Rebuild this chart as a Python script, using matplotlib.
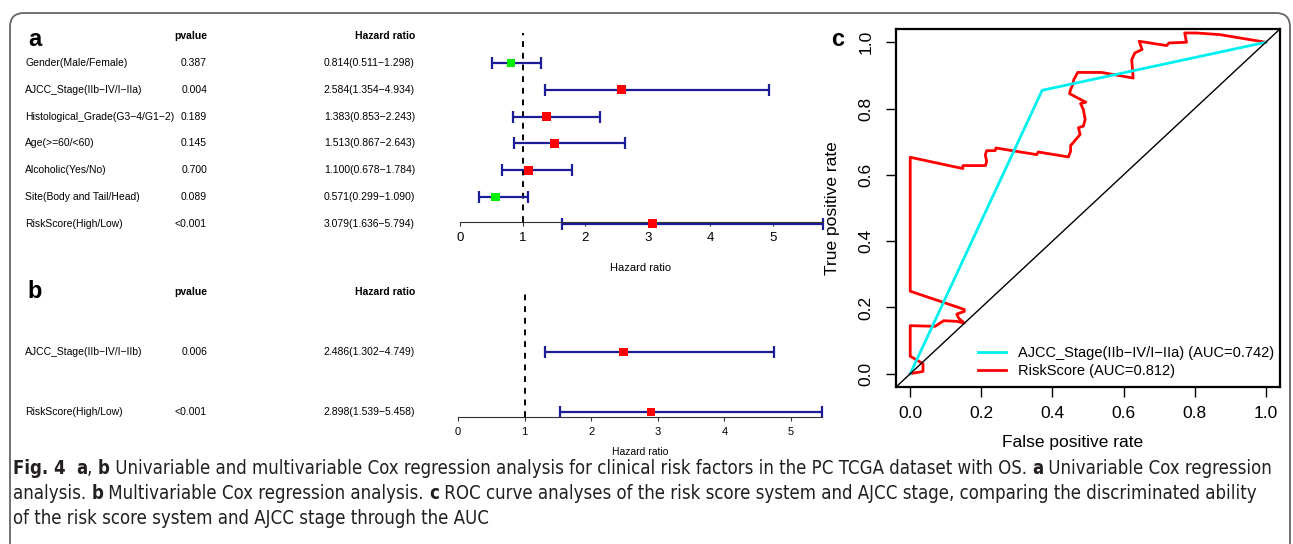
import matplotlib
matplotlib.use("Agg")
import matplotlib.pyplot as plt
from matplotlib import transforms
from matplotlib.patches import FancyBboxPatch
from matplotlib.font_manager import FontProperties

# ---- data -------------------------------------------------------------
uni_names = ["Gender(Male/Female)", "AJCC_Stage(IIb\u2212IV/I\u2212IIa)",
             "Histological_Grade(G3\u22124/G1\u22122)", "Age(>=60/<60)",
             "Alcoholic(Yes/No)", "Site(Body and Tail/Head)", "RiskScore(High/Low)"]
uni_pvalue = ["0.387", "0.004", "0.189", "0.145", "0.700", "0.089", "<0.001"]
uni_hr = [0.814, 2.584, 1.383, 1.513, 1.100, 0.571, 3.079]
uni_low = [0.511, 1.354, 0.853, 0.867, 0.678, 0.299, 1.636]
uni_high = [1.298, 4.934, 2.243, 2.643, 1.784, 1.090, 5.794]

multi_names = ["AJCC_Stage(IIb\u2212IV/I\u2212IIb)", "RiskScore(High/Low)"]
multi_pvalue = ["0.006", "<0.001"]
multi_hr = [2.486, 2.898]
multi_low = [1.302, 1.539]
multi_high = [4.749, 5.458]

hr_ticks = [0, 1, 2, 3, 4, 5]

ajcc_fpr = [0.0, 0.371, 1.0]
ajcc_tpr = [0.0, 0.855, 1.0]
risk_fpr = [0.0, 0.036, 0.036, 0.0, 0.0, 0.070, 0.094, 0.131, 0.152, 0.136, 0.131,
            0.152, 0.152, 0.0, 0.0, 0.148, 0.148, 0.212, 0.215, 0.211, 0.215, 0.239,
            0.241, 0.356, 0.360, 0.445, 0.451, 0.451, 0.478, 0.473, 0.487, 0.492,
            0.487, 0.479, 0.494, 0.448, 0.451, 0.457, 0.460, 0.471, 0.538, 0.627,
            0.623, 0.632, 0.652, 0.644, 0.721, 0.728, 0.777, 0.772, 0.805, 0.871, 1.0]
risk_tpr = [0.0, 0.007, 0.030, 0.053, 0.145, 0.143, 0.160, 0.158, 0.153, 0.168, 0.180,
            0.188, 0.194, 0.249, 0.653, 0.619, 0.628, 0.628, 0.642, 0.660, 0.673, 0.673,
            0.681, 0.661, 0.669, 0.654, 0.671, 0.688, 0.722, 0.742, 0.747, 0.767,
            0.797, 0.815, 0.819, 0.845, 0.857, 0.872, 0.887, 0.909, 0.909, 0.892,
            0.948, 0.968, 0.978, 1.003, 0.990, 0.998, 1.000, 1.028, 1.028, 1.023, 1.0]
ajcc_label = "AJCC_Stage(IIb\u2212IV/I\u2212IIa) (AUC=0.742)"
risk_label = "RiskScore (AUC=0.812)"

caption = [
    [("Fig. 4", True), ("  ", False), ("a", True), (", ", False), ("b", True),
     (" Univariable and multivariable Cox regression analysis for clinical risk factors "
      "in the PC TCGA dataset with OS. ", False), ("a", True),
     (" Univariable Cox regression", False)],
    [("analysis. ", False), ("b", True), (" Multivariable Cox regression analysis. ", False),
     ("c", True), (" ROC curve analyses of the risk score system and AJCC stage, comparing "
                   "the discriminated ability", False)],
    [("of the risk score system and AJCC stage through the AUC", False)],
]

# ---- figure ------------------------------------------------------------
W, H = 1293, 544
plt.rcParams["font.family"] = ["Liberation Sans", "DejaVu Sans"]
fig = plt.figure(figsize=(W / 100, H / 100), dpi=100)
fig.patch.set_facecolor("white")


def add_ax(x0, y0, x1, y1):
    return fig.add_axes([x0 / W, 1 - y1 / H, (x1 - x0) / W, (y1 - y0) / H])


def ftext(x, y, s, **kw):
    return fig.text(x / W, 1 - y / H, s, **kw)


# rounded frame
frame = FancyBboxPatch((10, -30), 1280, H - 13 + 30,
                       boxstyle="round,pad=0,rounding_size=14",
                       transform=None, fill=False, edgecolor="#666666", lw=1.3)
fig.patches.append(frame)


def forest(ax, names, pvals, hr, lo, hi, ylim, tick_fs, text_fs):
    n = len(names)
    rows = list(range(n))
    ax.set_xlim(0, max(hi))
    ax.set_ylim(*ylim)
    ax.patch.set_alpha(0)
    ax.axvline(1, color="black", lw=1.4, ls=(0, (3, 3)), zorder=1)
    xerr = [[h - l for h, l in zip(hr, lo)], [u - h for h, u in zip(hr, hi)]]
    ax.errorbar(hr, rows, xerr=xerr, fmt="none", ecolor="#1c1c98",
                elinewidth=1.6, capsize=4, capthick=1.6, clip_on=False, zorder=2)
    cols = ["#ff0000" if h > 1 else "#00ee00" for h in hr]
    ax.scatter(hr, rows, marker="s", s=40, c=cols, zorder=3, clip_on=False, linewidths=0)
    for s in ["left", "right", "top"]:
        ax.spines[s].set_visible(False)
    ax.spines["bottom"].set_bounds(0, max(hi))
    ax.spines["bottom"].set_color("#333333")
    ax.set_xticks(hr_ticks)
    ax.set_yticks([])
    ax.tick_params(axis="x", direction="out", length=3, pad=4, labelsize=tick_fs,
                   color="#333333")
    tr = transforms.blended_transform_factory(fig.transFigure, ax.transData)
    fig.text(207 / W, -1, "pvalue", transform=tr, ha="right", va="center",
             fontsize=text_fs, fontweight="bold")
    fig.text(415 / W, -1, "Hazard ratio", transform=tr, ha="right", va="center",
             fontsize=text_fs, fontweight="bold")
    for i in rows:
        fig.text(25 / W, i, names[i], transform=tr, ha="left", va="center", fontsize=text_fs)
        fig.text(207 / W, i, pvals[i], transform=tr, ha="right", va="center", fontsize=text_fs)
        fig.text(415 / W, i, "%.3f(%.3f\u2212%.3f)" % (hr[i], lo[i], hi[i]), transform=tr,
                 ha="right", va="center", fontsize=text_fs)


# panel a
ax_a = add_ax(460, 33, 460 + 5.794 * 62.6, 222)
forest(ax_a, uni_names, uni_pvalue, uni_hr, uni_low, uni_high,
       (5.933, -1.119), 9.5, 7.5)
ftext(641, 268, "Hazard ratio", ha="center", va="center", fontsize=8)
ftext(35, 40, "a", ha="center", va="center", fontsize=17, fontweight="bold")

# panel b
ax_b = add_ax(458, 292, 458 + 5.458 * 66.6, 417)
forest(ax_b, multi_names, multi_pvalue, multi_hr, multi_low, multi_high,
       (1.083, -1.0), 8, 7.5)
ftext(640, 452, "Hazard ratio", ha="center", va="center", fontsize=7.5)
ftext(35, 292, "b", ha="center", va="center", fontsize=17, fontweight="bold")

# panel c: ROC
ax_c = add_ax(896, 29, 1280, 387)
ax_c.plot(risk_fpr, risk_tpr, color="#ff0000", lw=2, label=risk_label)
ax_c.plot(ajcc_fpr, ajcc_tpr, color="#00f0f0", lw=2, label=ajcc_label)
ax_c.axline((0, 0), slope=1, color="black", lw=1)
ax_c.set_xlim(-0.04, 1.04)
ax_c.set_ylim(-0.04, 1.04)
ax_c.set_xticks([0, 0.2, 0.4, 0.6, 0.8, 1.0])
ax_c.set_yticks([0, 0.2, 0.4, 0.6, 0.8, 1.0])
ax_c.set_xticklabels(["0.0", "0.2", "0.4", "0.6", "0.8", "1.0"])
ax_c.set_yticklabels(["0.0", "0.2", "0.4", "0.6", "0.8", "1.0"], rotation=90, va="center")
ax_c.tick_params(direction="out", length=7, width=1, labelsize=12.5, pad=7)
ax_c.tick_params(axis="y", pad=9)
for s in ax_c.spines.values():
    s.set_linewidth(1.6)
    s.set_color("black")
h_r, h_a = ax_c.get_legend_handles_labels()[0]
ax_c.legend([h_a, h_r], [ajcc_label, risk_label], frameon=False, loc="center left",
            bbox_to_anchor=((978 - 896) / 384, (387 - 362) / 358), borderpad=0,
            borderaxespad=0, fontsize=10.5, handlelength=1.95, handletextpad=0.8,
            labelspacing=0.3)
ftext(1073, 442, "False positive rate", ha="center", va="center", fontsize=12.5)
ftext(833, 208, "True positive rate", ha="center", va="center", fontsize=12.5, rotation=90)
ftext(838, 40, "c", ha="center", va="center", fontsize=17, fontweight="bold")

# caption with bold runs (condensed face)
renderer = fig.canvas.get_renderer()


def cap_fp(bold, size):
    return FontProperties(family="DejaVu Sans", stretch="condensed",
                          weight="bold" if bold else "normal", size=size)


def run_width(s, bold, size):
    fp = cap_fp(bold, size)
    w1 = renderer.get_text_width_height_descent(s + "|", fp, ismath=False)[0]
    w2 = renderer.get_text_width_height_descent("|", fp, ismath=False)[0]
    return w1 - w2


base = 14.0
w_line = sum(run_width(s, b, base) for s, b in caption[0])
cap_size = base * (1280 - 13) / w_line
for line, y in zip(caption, [474, 499, 524]):
    x = 13
    for s, b in line:
        ftext(x, y, s, ha="left", va="baseline", fontproperties=cap_fp(b, cap_size),
              color="#231f20")
        x += run_width(s, b, cap_size)

fig.savefig("out.png", dpi=100)
